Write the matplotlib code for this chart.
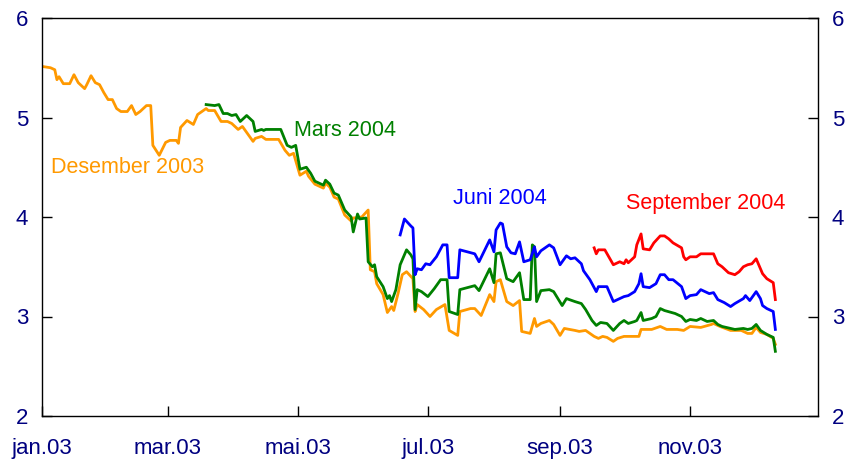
import matplotlib
matplotlib.use("Agg")
import matplotlib.pyplot as plt
import numpy as np

plt.rcParams['font.family'] = ['Liberation Sans', 'DejaVu Sans']

# ---- data (day of year 2003, 0 = 1 Jan) ----
des03_day = [1, 4, 6, 7, 8, 10, 13, 15, 17, 20, 21, 23, 25, 27, 28, 29, 31, 33, 35, 37,
             40, 42, 44, 46, 49, 51, 52, 55, 58, 60, 63, 64, 65, 68, 71, 73, 77, 78, 81, 84,
             87, 89, 92, 94, 96, 99, 100, 103, 105, 111, 114, 116, 118, 121, 124, 125, 128, 132, 133, 135,
             137, 139, 142, 145, 146, 150, 153, 154, 156, 157, 160, 162, 164, 165, 167, 169, 171, 174, 175, 176,
             179, 182, 185, 189, 191, 195, 196, 201, 203, 206, 210, 212, 213, 215, 218, 221, 224, 225, 229, 231,
             232, 234, 238, 240, 243, 245, 250, 252, 255, 257, 259, 261, 263, 265, 268, 270, 273, 280, 281, 286,
             290, 293, 298, 301, 304, 309, 314, 315, 318, 323, 328, 331, 333, 335, 337, 340, 343, 344]
des03_val = [5.51, 5.50, 5.48, 5.38, 5.41, 5.34, 5.34, 5.43, 5.35, 5.29, 5.33, 5.42, 5.35, 5.33, 5.29, 5.25, 5.18, 5.18, 5.09, 5.06,
             5.06, 5.12, 5.03, 5.06, 5.12, 5.12, 4.72, 4.62, 4.75, 4.77, 4.77, 4.74, 4.90, 4.97, 4.93, 5.03, 5.09, 5.07, 5.07, 4.96,
             4.96, 4.94, 4.88, 4.91, 4.85, 4.76, 4.79, 4.81, 4.78, 4.78, 4.67, 4.62, 4.64, 4.42, 4.46, 4.41, 4.33, 4.29, 4.34, 4.30,
             4.20, 4.18, 4.02, 3.96, 3.99, 4.00, 4.07, 3.47, 3.45, 3.33, 3.22, 3.04, 3.10, 3.06, 3.23, 3.42, 3.45, 3.38, 3.05, 3.12,
             3.07, 3.00, 3.07, 3.12, 2.86, 2.81, 3.05, 3.08, 3.08, 3.01, 3.22, 3.15, 3.35, 3.37, 3.15, 3.11, 3.16, 2.85, 2.83, 2.98,
             2.90, 2.93, 2.96, 2.92, 2.81, 2.88, 2.86, 2.85, 2.86, 2.83, 2.80, 2.78, 2.80, 2.79, 2.75, 2.78, 2.80, 2.80, 2.87, 2.87,
             2.90, 2.87, 2.87, 2.86, 2.90, 2.89, 2.92, 2.93, 2.90, 2.86, 2.86, 2.83, 2.83, 2.89, 2.84, 2.82, 2.78, 2.72]

mar04_day = [77, 81, 83, 85, 87, 89, 91, 93, 96, 99, 100, 103, 104, 105, 112, 115, 117, 119, 121, 124,
             126, 128, 132, 133, 135, 137, 139, 142, 145, 146, 148, 149, 152, 153, 155, 156, 157, 160, 162, 163,
             164, 166, 168, 171, 173, 174, 175, 176, 178, 181, 184, 187, 190, 191, 195, 196, 203, 205, 210, 212,
             213, 215, 218, 221, 224, 226, 229, 230, 231, 232, 234, 238, 240, 244, 246, 250, 253, 255, 258, 260,
             262, 265, 268, 271, 273, 275, 278, 279, 281, 282, 286, 288, 290, 292, 297, 300, 302, 304, 307, 309,
             312, 315, 317, 319, 323, 325, 329, 331, 333, 335, 337, 340, 343, 344]
mar04_val = [5.13, 5.12, 5.13, 5.04, 5.04, 5.02, 5.03, 4.96, 5.02, 4.96, 4.86, 4.88, 4.87, 4.88, 4.88, 4.72, 4.70, 4.72, 4.48, 4.50,
             4.44, 4.36, 4.32, 4.37, 4.33, 4.24, 4.22, 4.07, 4.00, 3.85, 4.03, 3.98, 3.99, 3.55, 3.50, 3.52, 3.40, 3.30, 3.18, 3.21,
             3.15, 3.27, 3.52, 3.67, 3.62, 3.58, 3.07, 3.27, 3.25, 3.20, 3.28, 3.37, 3.37, 3.05, 3.02, 3.27, 3.31, 3.26, 3.48, 3.34,
             3.63, 3.64, 3.38, 3.35, 3.44, 3.17, 3.17, 3.72, 3.70, 3.15, 3.26, 3.27, 3.25, 3.11, 3.18, 3.15, 3.13, 3.07, 2.96, 2.91,
             2.94, 2.93, 2.86, 2.93, 2.96, 2.93, 2.95, 2.96, 3.04, 2.96, 2.98, 3.00, 3.08, 3.06, 3.03, 3.00, 2.95, 2.97, 2.96, 2.98,
             2.95, 2.96, 2.92, 2.90, 2.88, 2.87, 2.88, 2.87, 2.88, 2.92, 2.86, 2.82, 2.79, 2.65]

jun04_day = [168, 170, 173, 174, 175, 176, 178, 180, 182, 185, 188, 190, 191, 195, 196, 203, 205, 210, 212, 213,
             215, 216, 218, 220, 222, 224, 226, 229, 231, 232, 234, 238, 240, 243, 246, 248, 250, 253, 254, 257,
             260, 261, 265, 268, 271, 273, 275, 278, 280, 281, 282, 285, 288, 290, 292, 294, 296, 300, 302, 304,
             307, 309, 313, 315, 317, 320, 323, 325, 329, 330, 332, 335, 337, 338, 340, 343, 344]
jun04_val = [3.82, 3.98, 3.91, 3.89, 3.42, 3.48, 3.47, 3.53, 3.52, 3.60, 3.72, 3.72, 3.39, 3.39, 3.67, 3.63, 3.55, 3.77, 3.65, 3.87,
             3.94, 3.93, 3.70, 3.64, 3.63, 3.75, 3.55, 3.57, 3.70, 3.60, 3.66, 3.72, 3.69, 3.52, 3.61, 3.58, 3.59, 3.53, 3.46, 3.37,
             3.25, 3.30, 3.30, 3.15, 3.18, 3.20, 3.21, 3.25, 3.33, 3.43, 3.30, 3.29, 3.33, 3.42, 3.42, 3.37, 3.37, 3.30, 3.18, 3.21,
             3.22, 3.27, 3.23, 3.24, 3.17, 3.14, 3.10, 3.13, 3.18, 3.21, 3.16, 3.25, 3.18, 3.11, 3.08, 3.05, 2.87]

sep04_day = [259, 260, 261, 264, 268, 271, 273, 274, 275, 278, 279, 281, 282, 285, 287, 290, 292, 294, 296, 300,
             301, 302, 304, 307, 309, 315, 317, 319, 322, 325, 327, 329, 331, 333, 335, 336, 338, 340, 343, 344]
sep04_val = [3.69, 3.63, 3.67, 3.67, 3.52, 3.55, 3.53, 3.57, 3.54, 3.60, 3.72, 3.83, 3.68, 3.67, 3.74, 3.81, 3.81, 3.78, 3.74, 3.69,
             3.60, 3.57, 3.60, 3.60, 3.63, 3.63, 3.53, 3.50, 3.44, 3.42, 3.45, 3.50, 3.52, 3.53, 3.58, 3.53, 3.43, 3.38, 3.34, 3.17]

series_names = ['Desember 2003', 'Mars 2004', 'Juni 2004', 'September 2004']
y_ticks = [2, 3, 4, 5, 6]
x_tick_dates = ['2003-01-01', '2003-03-01', '2003-05-01', '2003-07-01', '2003-09-01', '2003-11-01']
x_tick_labels = ['jan.03', 'mar.03', 'mai.03', 'jul.03', 'sep.03', 'nov.03']

# ---- figure ----
base = np.datetime64('2003-01-01')


def to_dates(days):
    return base + np.array(days, dtype='timedelta64[D]')


W, H = 855, 467
fig = plt.figure(figsize=(W / 100, H / 100), dpi=100)
ax = fig.add_axes([42 / W, 1 - 416 / H, (818 - 42) / W, (416 - 18) / H])

c_or, c_gr, c_bl, c_rd = '#FF9900', '#008000', '#0000FF', '#FF0000'
lw = 2.0
ax.plot(to_dates(des03_day), des03_val, color=c_or, lw=lw, solid_joinstyle='round')
ax.plot(to_dates(mar04_day), mar04_val, color=c_gr, lw=lw, solid_joinstyle='round')
ax.plot(to_dates(jun04_day), jun04_val, color=c_bl, lw=lw, solid_joinstyle='round')
ax.plot(to_dates(sep04_day), sep04_val, color=c_rd, lw=lw, solid_joinstyle='round')

ax.set_ylim(2, 6)
ax.set_yticks(y_ticks)
ax.set_xlim(base, base + np.timedelta64(364, 'D'))
ax.set_xticks(np.array(x_tick_dates, dtype='datetime64[D]'))
ax.set_xticklabels(x_tick_labels)

navy = '#000080'
ax.tick_params(axis='both', direction='in', length=7, width=1, color='black',
               labelcolor=navy, labelsize=16)
ax.tick_params(axis='y', right=True, labelright=True, pad=10)
ax.tick_params(axis='x', pad=16)
for s in ax.spines.values():
    s.set_linewidth(1.0)
    s.set_color('black')

fs = 15.5
ax.text(to_dates([4])[0], 4.50, series_names[0], color=c_or, fontsize=fs, va='center', ha='left')
ax.text(to_dates([118])[0], 4.87, series_names[1], color=c_gr, fontsize=fs, va='center', ha='left')
ax.text(to_dates([193])[0], 4.19, series_names[2], color=c_bl, fontsize=fs, va='center', ha='left')
ax.text(to_dates([274])[0], 4.14, series_names[3], color=c_rd, fontsize=fs, va='center', ha='left')

fig.savefig('out.png', dpi=100)
